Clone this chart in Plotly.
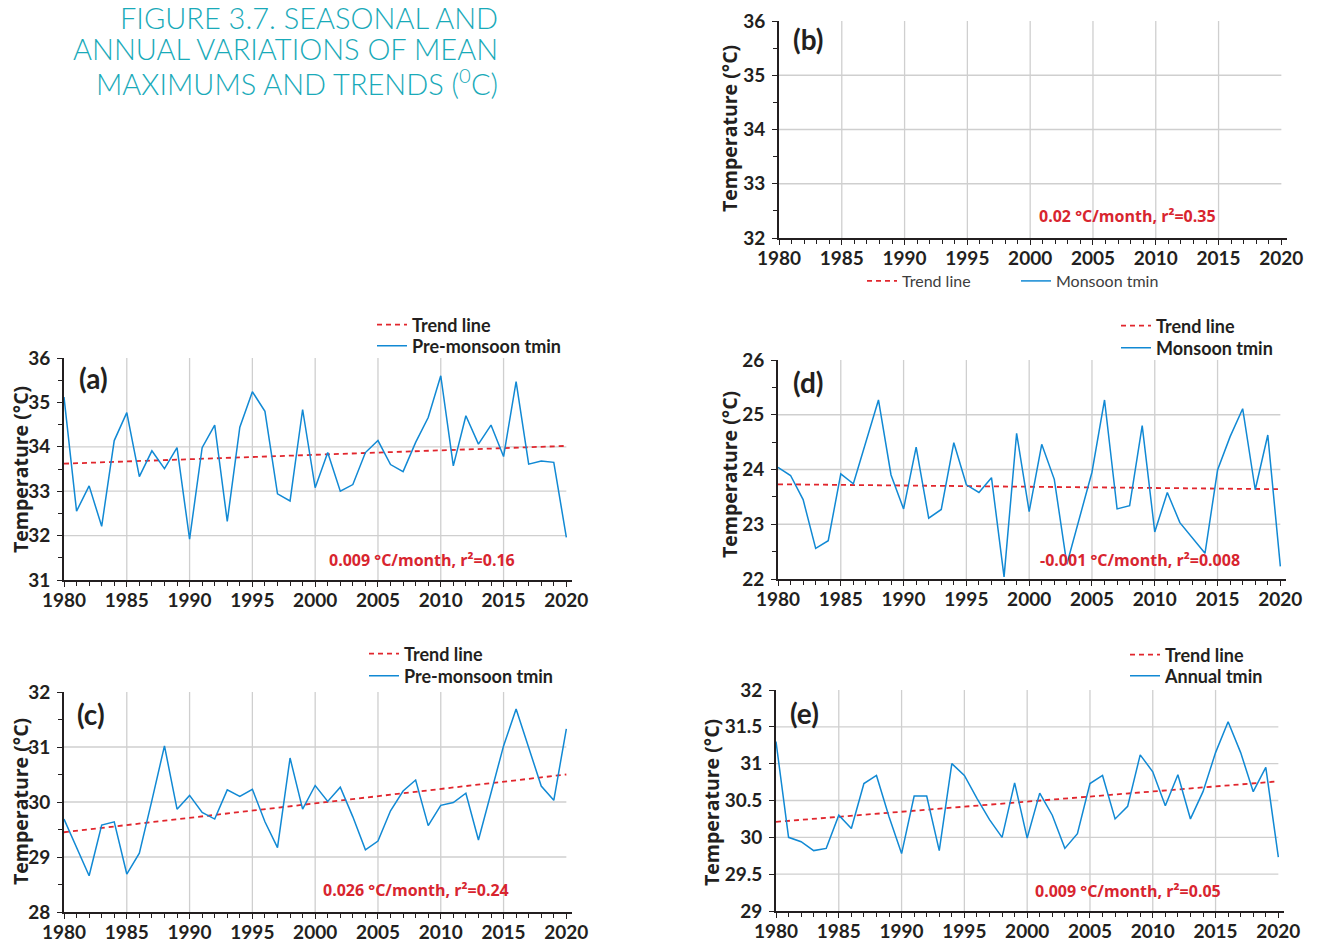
import plotly.graph_objects as go

# ---------------- data ----------------
years = list(range(1980, 2021))
trend_years = [1980, 2020]

premonsoon_a = [35.12, 32.55, 33.12, 32.21, 34.14, 34.77, 33.33, 33.91, 33.51, 33.98,
                31.92, 33.98, 34.49, 32.32, 34.44, 35.24, 34.80, 32.94, 32.78, 34.84,
                33.08, 33.87, 33.00, 33.15, 33.87, 34.14, 33.60, 33.44, 34.10, 34.66,
                35.60, 33.57, 34.70, 34.06, 34.49, 33.78, 35.47, 33.61, 33.68, 33.65, 31.96]
trend_a = [33.62, 34.02]

monsoon_d = [24.04, 23.89, 23.45, 22.56, 22.70, 23.92, 23.74, 24.50, 25.27, 23.90,
             23.28, 24.41, 23.11, 23.27, 24.49, 23.72, 23.58, 23.85, 22.04, 24.66,
             23.23, 24.46, 23.82, 22.27, 23.12, 23.95, 25.27, 23.28, 23.34, 24.80,
             22.86, 23.58, 23.03, 22.75, 22.47, 23.99, 24.60, 25.11, 23.63, 24.63, 22.23]
trend_d = [23.73, 23.64]

premonsoon_c = [29.69, 29.16, 28.66, 29.58, 29.64, 28.69, 29.07, 30.03, 31.02, 29.87,
                30.12, 29.81, 29.69, 30.22, 30.10, 30.23, 29.64, 29.17, 30.80, 29.87,
                30.30, 30.01, 30.27, 29.73, 29.13, 29.29, 29.84, 30.20, 30.40, 29.57,
                29.94, 29.99, 30.16, 29.31, 30.18, 31.02, 31.69, 30.99, 30.29, 30.03, 31.33]
trend_c = [29.45, 30.50]

annual_e = [31.30, 30.00, 29.94, 29.82, 29.85, 30.30, 30.12, 30.73, 30.84, 30.28,
            29.78, 30.56, 30.56, 29.82, 31.00, 30.84, 30.53, 30.24, 30.00, 30.74,
            29.99, 30.60, 30.30, 29.85, 30.05, 30.73, 30.84, 30.25, 30.42, 31.12,
            30.89, 30.43, 30.85, 30.25, 30.62, 31.15, 31.57, 31.15, 30.62, 30.95, 29.73]
trend_e = [30.21, 30.76]

# panel (b) is drawn empty in the source: no values
empty_years = [None]
empty_vals = [None]

x_tick_labels = ["1980", "1985", "1990", "1995", "2000", "2005", "2010", "2015", "2020"]
x_tick_vals = [1980, 1985, 1990, 1995, 2000, 2005, 2010, 2015, 2020]
x_grid_years = [1985, 1990, 1995, 2000, 2005, 2010, 2015]

title_lines = ["FIGURE 3.7. SEASONAL AND", "ANNUAL VARIATIONS OF MEAN", "MAXIMUMS AND TRENDS (<sup>0</sup>C)"]

# ---------------- style ----------------
OFF = 8                      # page body margin
W, H = 1321 - OFF, 943 - OFF  # figure size so the page fits the window
BLUE = "#1189d4"
RED = "#e1262d"
ANN_RED = "#d8252f"
DARK = "#231f20"
GRID = "#cfcfcf"
TITLE_C = "#19aab9"
FONT = "Lato"

def px(x):
    return (x - OFF) / W

def py(y):
    return 1 - (y - OFF) / H

def xd(p0, p1):
    return [px(p0), px(p1)]

def yd(top, bot):
    return [py(bot), py(top)]

panels = [
    dict(k="b", xpx=(779, 1287), ypx=(21, 238), yr=(32, 36), ytick=[32, 33, 34, 35, 36],
         ytxt=["32", "33", "34", "35", "36"], gy=[33, 34, 35], minor=0.5,
         series=None, trend=None, name="Monsoon tmin", letter="(b)", letpos=(808, 39),
         ann="0.02 °C/month, r²=0.35", annpos=(1127, 216), ytitle=(729, 128),
         leg=[(862, 281), (1016, 281)], horiz=True),
    dict(k="a", xpx=(64, 572), ypx=(358, 580), yr=(31, 36), ytick=[31, 32, 33, 34, 35, 36],
         ytxt=["31", "32", "33", "34", "35", "36"], gy=[32, 33, 34], minor=0.5,
         series=premonsoon_a, trend=trend_a, name="Pre-monsoon tmin", letter="(a)", letpos=(93, 378),
         ann="0.009 °C/month, r²=0.16", annpos=(422, 560), ytitle=(20, 470),
         leg=[(372, 325), (372, 346)], horiz=False),
    dict(k="d", xpx=(778, 1286), ypx=(360, 579), yr=(22, 26), ytick=[22, 23, 24, 25, 26],
         ytxt=["22", "23", "24", "25", "26"], gy=[23, 24, 25], minor=0.5,
         series=monsoon_d, trend=trend_d, name="Monsoon tmin", letter="(d)", letpos=(808, 382),
         ann="-0.001 °C/month, r²=0.008", annpos=(1140, 560), ytitle=(729, 474),
         leg=[(1116, 326), (1116, 348)], horiz=False),
    dict(k="c", xpx=(64, 572), ypx=(692, 912), yr=(28, 32), ytick=[28, 29, 30, 31, 32],
         ytxt=["28", "29", "30", "31", "32"], gy=[29, 30, 31], minor=0.5,
         series=premonsoon_c, trend=trend_c, name="Pre-monsoon tmin", letter="(c)", letpos=(91, 714),
         ann="0.026 °C/month, r²=0.24", annpos=(416, 890), ytitle=(20, 802),
         leg=[(364, 654), (364, 676)], horiz=False),
    dict(k="e", xpx=(776, 1284), ypx=(690, 911), yr=(29, 32), ytick=[29, 29.5, 30, 30.5, 31, 31.5, 32],
         ytxt=["29", "29.5", "30", "30.5", "31", "31.5", "32"], gy=[29.5, 30, 30.5, 31, 31.5], minor=None,
         series=annual_e, trend=trend_e, name="Annual tmin", letter="(e)", letpos=(804, 713),
         ann="0.009 °C/month, r²=0.05", annpos=(1128, 891), ytitle=(711, 803),
         leg=[(1125, 655), (1125, 676)], horiz=False),
]

fig = go.Figure()
layout = dict(
    width=W, height=H, margin=dict(l=0, r=0, t=0, b=0, autoexpand=False),
    paper_bgcolor="white", plot_bgcolor="white",
    font=dict(family=FONT, color=DARK), showlegend=True,
    shapes=[], annotations=[],
)

leg_n = 0
for i, p in enumerate(panels, start=1):
    xa = "xaxis" if i == 1 else f"xaxis{i}"
    ya = "yaxis" if i == 1 else f"yaxis{i}"
    xr = "x" if i == 1 else f"x{i}"
    yr_ = "y" if i == 1 else f"y{i}"

    layout[xa] = dict(
        domain=xd(*p["xpx"]), anchor=yr_, range=[1980, 2020.45], automargin=False,
        tickvals=x_tick_vals, ticktext=x_tick_labels, ticklabeloverflow="allow",
        ticks="outside", ticklen=5, tickwidth=1.3, tickcolor=DARK, ticklabelstandoff=-3,
        minor=dict(dtick=1, tick0=1980, ticks="outside", ticklen=4, tickwidth=1.1, tickcolor=DARK, showgrid=False),
        showline=True, linecolor=DARK, linewidth=1.6,
        showgrid=False, zeroline=False, fixedrange=True,
        tickfont=dict(family=FONT, size=19, color=DARK, weight="bold"),
    )
    ydict = dict(
        domain=yd(*p["ypx"]), anchor=xr, range=list(p["yr"]), automargin=False,
        tickvals=p["ytick"], ticktext=p["ytxt"], ticklabeloverflow="allow",
        ticks="outside", ticklen=5, tickwidth=1.3, tickcolor=DARK,
        showline=True, linecolor=DARK, linewidth=1.6,
        showgrid=False, zeroline=False, fixedrange=True,
        ticklabelstandoff=3,
        tickfont=dict(family=FONT, size=19, color=DARK, weight="bold"),
    )
    if p["minor"]:
        ydict["minor"] = dict(dtick=p["minor"], ticks="outside", ticklen=4, tickwidth=1.1, tickcolor=DARK, showgrid=False)
    layout[ya] = ydict

    # gridlines
    for gx in x_grid_years:
        layout["shapes"].append(dict(type="line", xref=xr, yref=yr_, x0=gx, x1=gx,
                                     y0=p["yr"][0], y1=p["yr"][1], layer="below",
                                     line=dict(color=GRID, width=1.3)))
    for gyv in p["gy"]:
        layout["shapes"].append(dict(type="line", xref=xr, yref=yr_, x0=1980, x1=2020,
                                     y0=gyv, y1=gyv, layer="below",
                                     line=dict(color=GRID, width=1.3)))

    # legends (one per entry, so each row can be placed)
    legs = []
    for (lx, ly) in p["leg"]:
        leg_n += 1
        lname = "legend" if leg_n == 1 else f"legend{leg_n}"
        legs.append(lname)
        if p["horiz"]:
            lfont = dict(family=FONT, size=16, color="#3d3d3d")
        else:
            lfont = dict(family=FONT, size=18, color=DARK, weight="bold")
        layout[lname] = dict(x=px(lx), y=py(ly), xanchor="left", yanchor="middle",
                             orientation="v", bgcolor="rgba(0,0,0,0)", borderwidth=0,
                             tracegroupgap=0, font=lfont, visible=True)

    # traces
    fig.add_trace(go.Scatter(
        x=trend_years if p["trend"] else empty_years, y=p["trend"] if p["trend"] else empty_vals,
        mode="lines", name="Trend line", xaxis=xr, yaxis=yr_, legend=legs[0], showlegend=True,
        line=dict(color=RED, width=1.8, dash="5px,4px"), hoverinfo="skip",
    ))
    fig.add_trace(go.Scatter(
        x=years if p["series"] else empty_years, y=p["series"] if p["series"] else empty_vals,
        mode="lines", name=p["name"], xaxis=xr, yaxis=yr_, legend=legs[1], showlegend=True,
        line=dict(color=BLUE, width=1.5),
    ))

    # panel letter
    layout["annotations"].append(dict(
        text=p["letter"], x=px(p["letpos"][0]), y=py(p["letpos"][1]), xref="paper", yref="paper",
        showarrow=False, xanchor="center", yanchor="middle",
        font=dict(family=FONT, size=28, color=DARK, weight="bold")))
    # trend annotation
    layout["annotations"].append(dict(
        text=p["ann"], x=px(p["annpos"][0]), y=py(p["annpos"][1]), xref="paper", yref="paper",
        showarrow=False, xanchor="center", yanchor="middle",
        font=dict(family="Open Sans", size=16, color=ANN_RED, weight="bold")))
    # y title
    layout["annotations"].append(dict(
        text="Temperature (°C)", x=px(p["ytitle"][0]), y=py(p["ytitle"][1]), xref="paper", yref="paper",
        showarrow=False, xanchor="center", yanchor="middle", textangle=-90,
        font=dict(family="Open Sans", size=19.5, color=DARK, weight="bold")))

# figure title
for line, yc in zip(title_lines, [17, 49, 82]):
    layout["annotations"].append(dict(
        text=line, x=px(500), y=py(yc), xref="paper", yref="paper",
        showarrow=False, xanchor="right", yanchor="middle",
        font=dict(family=FONT, size=29, color=TITLE_C, weight=300)))

fig.update_layout(**layout)
fig.write_html("out.html")
